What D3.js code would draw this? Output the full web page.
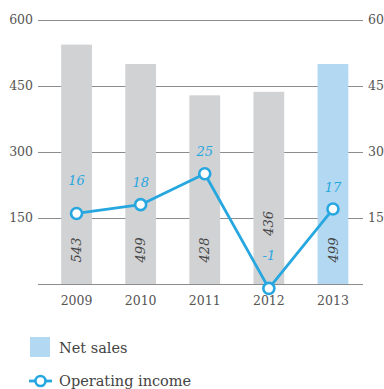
<!DOCTYPE html>
<html>
<head>
<meta charset="utf-8">
<script src="https://cdn.jsdelivr.net/npm/d3@7"></script>
<style>
  html, body { margin: 0; padding: 0; background: #fff; }
  svg { display: block; }
  text { font-family: "DejaVu Serif", Georgia, serif; }
</style>
</head>
<body>
<svg id="chart" width="384" height="389"></svg>
<script>
const years = ["2009", "2010", "2011", "2012", "2013"];
const netSales = [543, 499, 428, 436, 499];
const operatingIncome = [16, 18, 25, -1, 17];
const leftTicks = [150, 300, 450, 600];
const rightTicks = [15, 30, 45, 60];
const highlightYear = "2013";

const svg = d3.select("#chart");
const gridLeft = 38, gridRight = 363;

const x = d3.scaleBand().domain(years).range([44.5, 365]).paddingInner(0.52).paddingOuter(0.26);
const y = d3.scaleLinear().domain([0, 600]).range([284, 19.5]);
const yR = d3.scaleLinear().domain([0, 60]).range([284, 19.5]);

const grey = "#d1d2d4", lightBlue = "#b3d9f2", blue = "#27a7e0";
const gridColor = "#8c8c8c", labelColor = "#555";

// horizontal gridlines (including baseline)
svg.append("g").selectAll("line").data([0, ...leftTicks]).join("line")
  .attr("x1", gridLeft).attr("x2", gridRight)
  .attr("y1", d => Math.round(y(d)) + 0.5).attr("y2", d => Math.round(y(d)) + 0.5)
  .attr("stroke", gridColor).attr("stroke-width", 1);

// left axis labels
svg.append("g").selectAll("text").data(leftTicks).join("text")
  .attr("x", 33).attr("y", d => y(d)).attr("dy", "0.35em")
  .attr("text-anchor", "end").attr("font-size", 12.5).attr("fill", labelColor)
  .text(d => d);

// right axis labels
svg.append("g").selectAll("text").data(rightTicks).join("text")
  .attr("x", 368).attr("y", d => yR(d)).attr("dy", "0.35em")
  .attr("text-anchor", "start").attr("font-size", 12.5).attr("fill", labelColor)
  .text(d => d);

// bars
const rows = years.map((yr, i) => ({ yr, sales: netSales[i], income: operatingIncome[i], i }));
svg.append("g").selectAll("rect").data(rows).join("rect")
  .attr("x", d => x(d.yr)).attr("width", x.bandwidth())
  .attr("y", d => y(d.sales)).attr("height", d => y(0) - y(d.sales))
  .attr("fill", d => d.yr === highlightYear ? lightBlue : grey);

// income label positions (lifted further at a local minimum of the line)
function incomeLabelY(d) {
  const prev = operatingIncome[d.i - 1], next = operatingIncome[d.i + 1];
  const isMin = (prev === undefined || prev > d.income) && (next === undefined || next > d.income);
  return yR(d.income) - (isMin ? 33 : 22);
}

// rotated sales values inside bars, moved up when the income label would collide
function salesLabelY(d) {
  const base = y(0) - 34;
  const iy = incomeLabelY(d);
  return Math.abs(iy - base) < 30 ? iy - 32 : base;
}
svg.append("g").selectAll("text").data(rows).join("text")
  .attr("transform", d => `translate(${x(d.yr) + x.bandwidth() / 2},${salesLabelY(d)}) rotate(-90)`)
  .attr("text-anchor", "middle").attr("dy", "0.35em")
  .attr("font-size", 13).attr("font-style", "italic").attr("fill", "#444")
  .text(d => d.sales);

// year labels
svg.append("g").selectAll("text").data(years).join("text")
  .attr("x", d => x(d) + x.bandwidth() / 2).attr("y", 305)
  .attr("text-anchor", "middle").attr("font-size", 12.5).attr("fill", labelColor)
  .text(d => d);

// operating income line
const line = d3.line().x(d => x(d.yr) + x.bandwidth() / 2).y(d => yR(d.income));
svg.append("path").datum(rows).attr("d", line)
  .attr("fill", "none").attr("stroke", blue).attr("stroke-width", 2.8).attr("stroke-linejoin", "round");

svg.append("g").selectAll("circle").data(rows).join("circle")
  .attr("cx", d => x(d.yr) + x.bandwidth() / 2).attr("cy", d => yR(d.income)).attr("r", 5.5)
  .attr("fill", "#fff").attr("stroke", blue).attr("stroke-width", 2.6);

svg.append("g").selectAll("text").data(rows).join("text")
  .attr("x", d => x(d.yr) + x.bandwidth() / 2).attr("y", d => incomeLabelY(d)).attr("dy", "0.35em")
  .attr("text-anchor", "middle").attr("font-size", 13).attr("font-style", "italic").attr("fill", blue)
  .text(d => d.income);

// legend
const legend = svg.append("g");
legend.append("rect").attr("x", 30).attr("y", 337).attr("width", 20).attr("height", 20).attr("fill", lightBlue);
legend.append("text").attr("x", 59).attr("y", 347.5).attr("dy", "0.35em")
  .attr("font-size", 14.5).attr("fill", "#444").text("Net sales");
legend.append("line").attr("x1", 29).attr("x2", 52).attr("y1", 381).attr("y2", 381)
  .attr("stroke", blue).attr("stroke-width", 2.8);
legend.append("circle").attr("cx", 40.5).attr("cy", 381).attr("r", 5)
  .attr("fill", "#fff").attr("stroke", blue).attr("stroke-width", 2.6);
legend.append("text").attr("x", 59).attr("y", 381).attr("dy", "0.35em")
  .attr("font-size", 14.5).attr("fill", "#444").text("Operating income");
</script>
</body>
</html>
